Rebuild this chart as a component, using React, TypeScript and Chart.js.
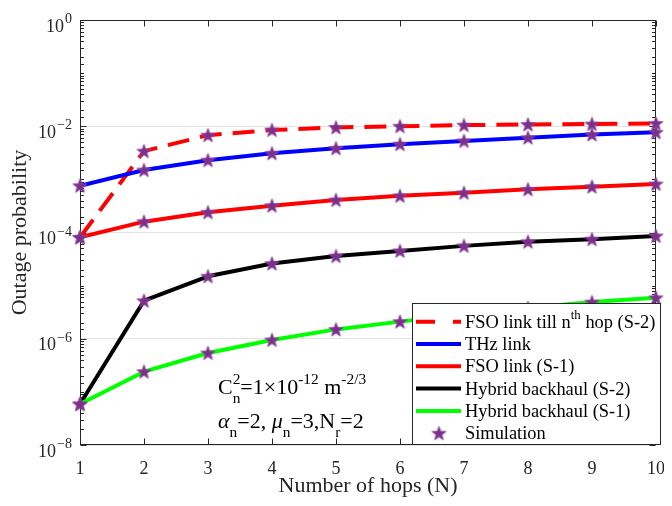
import React, { useEffect, useRef } from 'react';
import { Chart, registerables } from 'chart.js';

Chart.register(...registerables);

// ---------------- data ----------------
const hops = [1, 2, 3, 4, 5, 6, 7, 8, 9, 10];
const fsoNthHopS2 = [8.1e-5, 3.4e-3, 6.8e-3, 8.5e-3, 9.5e-3, 1.0e-2, 1.05e-2, 1.08e-2, 1.1e-2, 1.13e-2];
const thzLink = [7.6e-4, 1.5e-3, 2.3e-3, 3.1e-3, 3.85e-3, 4.6e-3, 5.3e-3, 6.1e-3, 7.0e-3, 7.7e-3];
const fsoLinkS1 = [8.1e-5, 1.6e-4, 2.4e-4, 3.2e-4, 4.1e-4, 4.9e-4, 5.6e-4, 6.5e-4, 7.3e-4, 8.2e-4];
const hybridS2 = [5.9e-8, 5.2e-6, 1.5e-5, 2.6e-5, 3.6e-5, 4.5e-5, 5.6e-5, 6.7e-5, 7.5e-5, 8.6e-5];
const hybridS1 = [5.9e-8, 2.4e-7, 5.4e-7, 9.5e-7, 1.5e-6, 2.1e-6, 2.9e-6, 3.8e-6, 4.9e-6, 5.9e-6];

const seriesLabels = [
  'FSO link till n^{th} hop (S-2)',
  'THz link',
  'FSO link (S-1)',
  'Hybrid backhaul (S-2)',
  'Hybrid backhaul (S-1)',
];
const simulationLabel = 'Simulation';
const yLabelExponents = [0, -2, -4, -6, -8];
const xAxisTitle = 'Number of hops (N)';
const yAxisTitle = 'Outage probability';
const annotationLines = ['C_{n}^{2}=1×10^{-12} m^{-2/3}', 'α_{n}=2, μ_{n}=3,N_{r}=2'];

const FONT = '"Liberation Serif", "Times New Roman", Times, serif';
const AXIS_COLOR = '#262626';
const STAR_COLOR = '#7E2F8E';

function makeStar(r: number) {
  const c = document.createElement('canvas');
  const s = Math.ceil(2 * r + 2);
  c.width = s;
  c.height = s;
  const g = c.getContext('2d')!;
  const cx = s / 2;
  const cy = s / 2 + r * 0.08;
  g.beginPath();
  for (let i = 0; i < 10; i++) {
    const a = -Math.PI / 2 + (i * Math.PI) / 5;
    const rr = i % 2 === 0 ? r : r * 0.42;
    const x = cx + rr * Math.cos(a);
    const y = cy + rr * Math.sin(a);
    if (i === 0) g.moveTo(x, y);
    else g.lineTo(x, y);
  }
  g.closePath();
  g.fillStyle = STAR_COLOR;
  g.fill();
  g.strokeStyle = '#8E4A9E';
  g.lineWidth = 0.8;
  g.stroke();
  return c;
}

type Tok = { t: string; k: 'n' | 'sup' | 'sub' };
function parseRich(s: string): Tok[] {
  const toks: Tok[] = [];
  let i = 0;
  let buf = '';
  while (i < s.length) {
    const c = s[i];
    if ((c === '^' || c === '_') && s[i + 1] === '{') {
      if (buf) {
        toks.push({ t: buf, k: 'n' });
        buf = '';
      }
      const end = s.indexOf('}', i);
      toks.push({ t: s.slice(i + 2, end), k: c === '^' ? 'sup' : 'sub' });
      i = end + 1;
    } else {
      buf += c;
      i++;
    }
  }
  if (buf) toks.push({ t: buf, k: 'n' });
  return toks;
}

function drawRich(ctx: CanvasRenderingContext2D, s: string, x: number, y: number, size: number, color: string, smallRatio = 0.7) {
  const toks = parseRich(s);
  const small = size * smallRatio;
  let cx = x;
  ctx.fillStyle = color;
  ctx.textBaseline = 'alphabetic';
  ctx.textAlign = 'left';
  const supDy = -size * 0.45;
  const subDy = size * 0.42;
  for (let j = 0; j < toks.length; j++) {
    const tk = toks[j];
    if (tk.k === 'n') {
      for (const run of tk.t.split(/([αμ])/)) {
        if (!run) continue;
        const greek = /^[αμ]$/.test(run);
        ctx.font = `${greek ? 'italic ' : ''}${size}px ${FONT}`;
        ctx.fillText(run, cx, y);
        cx += ctx.measureText(run).width;
      }
    } else {
      ctx.font = `${small}px ${FONT}`;
      ctx.fillText(tk.t, cx, y + (tk.k === 'sup' ? supDy : subDy));
      let w = ctx.measureText(tk.t).width;
      const nx = toks[j + 1];
      if (nx && nx.k !== 'n' && nx.k !== tk.k) {
        ctx.fillText(nx.t, cx, y + (nx.k === 'sup' ? supDy : subDy));
        w = Math.max(w, ctx.measureText(nx.t).width);
        j++;
      }
      cx += w;
    }
  }
  return cx - x;
}

function isEvenDecade(v: number) {
  const lg = Math.log10(v);
  const r = Math.round(lg);
  return Math.abs(lg - r) < 1e-6 && r % 2 === 0;
}

const decorPlugin = {
  id: 'decor',
  beforeDatasetsDraw(chart: any) {
    const ctx: CanvasRenderingContext2D = chart.ctx;
    const { left, right, top, bottom } = chart.chartArea;
    const xs = chart.scales.x;
    const ys = chart.scales.y;
    ctx.save();
    ctx.strokeStyle = AXIS_COLOR;
    ctx.lineWidth = 1;
    const L = Math.round(left) + 0.5;
    const R = Math.round(right) - 0.5;
    const T = Math.round(top) + 0.5;
    const B = Math.round(bottom) - 0.5;
    ctx.beginPath();
    for (const t of xs.ticks) {
      const px = Math.round(xs.getPixelForValue(t.value)) + 0.5;
      ctx.moveTo(px, B);
      ctx.lineTo(px, B - 6);
      ctx.moveTo(px, T);
      ctx.lineTo(px, T + 6);
    }
    for (const t of ys.ticks) {
      const py = Math.round(ys.getPixelForValue(t.value)) + 0.5;
      const len = isEvenDecade(t.value) ? 6 : 3.5;
      ctx.moveTo(L, py);
      ctx.lineTo(L + len, py);
      ctx.moveTo(R, py);
      ctx.lineTo(R - len, py);
    }
    ctx.stroke();
    ctx.strokeRect(L, T, R - L, B - T);

    // y tick labels 10^k
    for (const e of yLabelExponents) {
      const py = ys.getPixelForValue(Math.pow(10, e));
      const exp = e < 0 ? '\u2212' + String(-e) : String(e);
      ctx.fillStyle = AXIS_COLOR;
      ctx.textAlign = 'right';
      ctx.textBaseline = 'alphabetic';
      ctx.font = `14px ${FONT}`;
      const ew = ctx.measureText(exp).width;
      ctx.fillText(exp, left - 8, py + 3);
      ctx.font = `18px ${FONT}`;
      ctx.fillText('10', left - 9 - ew, py + 11.5);
    }
    ctx.restore();
  },
  afterDatasetsDraw(chart: any) {
    const ctx: CanvasRenderingContext2D = chart.ctx;
    ctx.save();
    // legend box
    const bx = 404.5, by = 295.5, bw = 248, bh = 141;
    ctx.fillStyle = '#ffffff';
    ctx.fillRect(bx, by, bw, bh);
    ctx.strokeStyle = AXIS_COLOR;
    ctx.lineWidth = 1;
    ctx.strokeRect(bx, by, bw, bh);
    const ds = chart.data.datasets;
    const rowY = (i: number) => 313.7 + i * 22.3;
    for (let i = 0; i < seriesLabels.length; i++) {
      const d = ds[i];
      const cy = rowY(i);
      ctx.strokeStyle = d.borderColor;
      ctx.lineWidth = 4;
      ctx.setLineDash(d.borderDash && d.borderDash.length ? [19, 18] : []);
      ctx.beginPath();
      ctx.moveTo(408, cy);
      ctx.lineTo(453, cy);
      ctx.stroke();
      ctx.setLineDash([]);
      drawRich(ctx, seriesLabels[i], 457, cy + 6, 18.4, '#000', 0.7);
    }
    const sy = rowY(seriesLabels.length);
    const simDs = ds[seriesLabels.length];
    const img = simDs.pointStyle as HTMLCanvasElement;
    ctx.drawImage(img, 431 - img.width / 2, sy - img.height / 2);
    drawRich(ctx, simulationLabel, 457, sy + 6, 18.4, '#000');

    // annotation
    drawRich(ctx, annotationLines[0], 210, 386, 22, '#000');
    drawRich(ctx, annotationLines[1], 210, 420, 22, '#000');
    ctx.restore();
  },
};

export default function App() {
  const ref = useRef<HTMLCanvasElement | null>(null);
  useEffect(() => {
    if (!ref.current) return;
    const star = makeStar(7.5);
    const mk = (ys: number[]) => hops.map((x, i) => ({ x, y: ys[i] }));
    const all = [fsoNthHopS2, thzLink, fsoLinkS1, hybridS2, hybridS1];
    const colors = ['#FF0000', '#0000FF', '#FF0000', '#000000', '#00FF00'];
    const lineSets = all.map((ys, i) => ({
      label: seriesLabels[i],
      data: mk(ys),
      borderColor: colors[i],
      backgroundColor: colors[i],
      borderWidth: 4,
      borderDash: i === 0 ? [22, 11] : [],
      pointRadius: 0,
      tension: 0,
      order: 6 - i,
      borderJoinStyle: 'round' as const,
    }));
    const simPoints: { x: number; y: number }[] = [];
    all.forEach((ys) => simPoints.push(...mk(ys)));
    const chart = new Chart(ref.current, {
      type: 'line',
      data: {
        datasets: [
          ...lineSets,
          {
            label: simulationLabel,
            data: simPoints,
            showLine: false,
            pointStyle: star as any,
            pointRadius: 7,
            borderColor: STAR_COLOR,
            backgroundColor: STAR_COLOR,
            order: 0,
            clip: false as any,
          },
        ],
      },
      options: {
        animation: false,
        responsive: true,
        maintainAspectRatio: false,
        layout: { padding: { top: 12, right: 3, left: 0, bottom: 0 } },
        plugins: { legend: { display: false }, tooltip: { enabled: false } },
        scales: {
          x: {
            type: 'linear',
            min: 1,
            max: 10,
            ticks: {
              stepSize: 1,
              padding: 13,
              color: AXIS_COLOR,
              font: { family: FONT, size: 18 },
            },
            grid: { display: false, drawTicks: false },
            border: { display: false },
            title: {
              display: true,
              text: xAxisTitle,
              color: AXIS_COLOR,
              font: { family: FONT, size: 22 },
              padding: { top: 0, bottom: -1 },
            },
            afterFit: (s: any) => {
              s.height = 53;
              s.paddingLeft = 0;
              s.paddingRight = 0;
            },
          },
          y: {
            type: 'logarithmic',
            min: 1e-8,
            max: 1,
            ticks: { display: false },
            grid: {
              drawTicks: false,
              color: (c: any) => (c.tick && isEvenDecade(c.tick.value) ? '#E3E3E3' : 'rgba(0,0,0,0)'),
              lineWidth: 1,
            },
            border: { display: false },
            title: {
              display: true,
              text: yAxisTitle,
              color: AXIS_COLOR,
              font: { family: FONT, size: 22 },
              padding: { top: -1, bottom: 0 },
            },
            afterFit: (s: any) => {
              s.width = 72;
              s.paddingTop = 0;
              s.paddingBottom = 0;
            },
          },
        },
      },
      plugins: [decorPlugin],
    });
    return () => chart.destroy();
  }, []);
  return (
    <div style={{ width: 656, height: 490, position: 'relative' }}>
      <canvas ref={ref} />
    </div>
  );
}
